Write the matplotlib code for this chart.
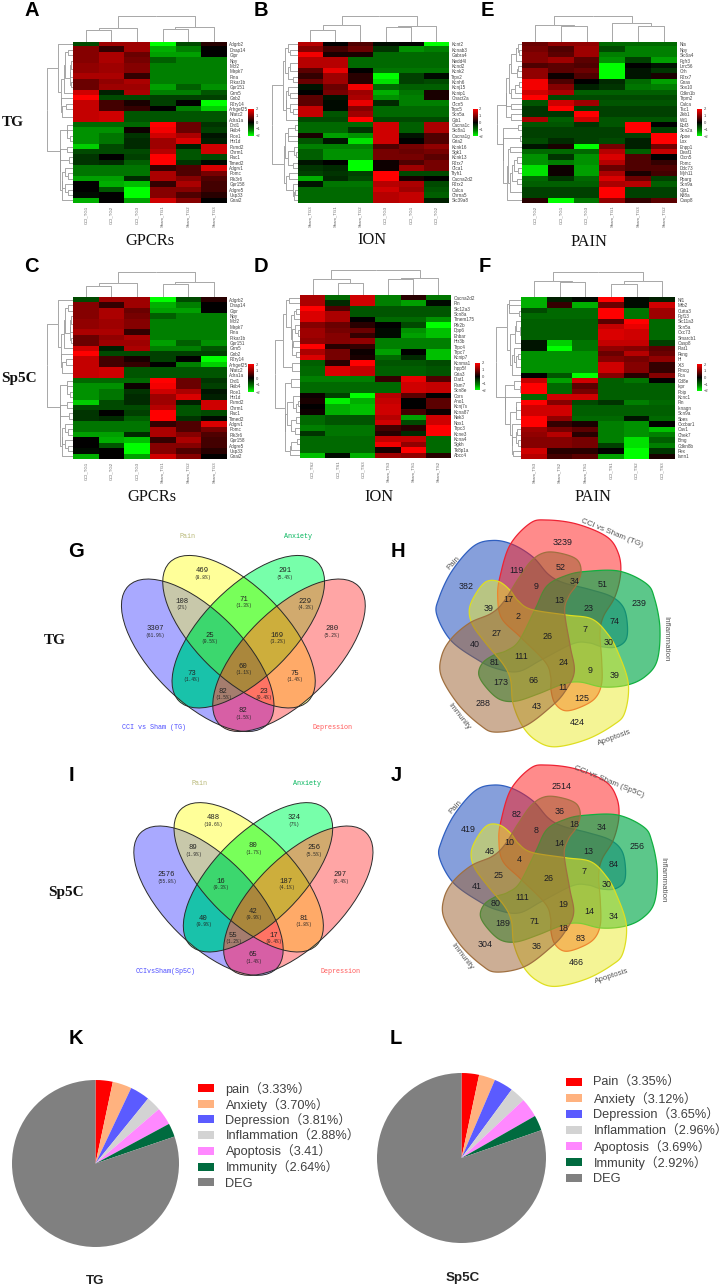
import numpy as np
import matplotlib
matplotlib.use("Agg")
import matplotlib.pyplot as plt
from matplotlib.colors import LinearSegmentedColormap, Normalize
from matplotlib.cm import ScalarMappable
from matplotlib.patches import Ellipse, Polygon

W, H = 726, 1288
plt.rcParams["font.family"] = ["Liberation Sans", "DejaVu Sans"]

# ---------------- heatmap data ----------------
HEAT_A = [
 [-.7,1.2,1.2,-2,-.7,.3],[1.0,.4,1.2,-1.5,-1.2,0],[1.0,1.3,.8,-1.4,-1.4,0],[1.0,1.3,.9,-.9,-1.2,-1.2],
 [1.1,1.2,1.0,-1.2,-1.2,-1.2],[1.1,1.2,1.0,-1.2,-1.2,-1.2],[1.3,1.3,.4,-1.2,-1.2,-1.2],[.8,1.1,1.3,-1.2,-1.2,-1.2],
 [.8,1.2,1.2,-1.4,-.9,-1.3],[1.6,-.3,1.3,-1.2,-1.2,-.8],[2,-.7,-.7,-.6,-.6,-.6],[1.5,.5,.2,-.6,0,-2],
 [1.5,.5,.4,0,-1.2,-1.7],[1.5,1.6,-.8,-.8,-.8,-.8],[1.5,1.6,-.8,-.8,-.8,-.8],[-1,-1,-1,2,.8,-.5],
 [-1.3,-1.3,.1,1.9,.8,-.6],[-1.3,-1.1,-.5,1.6,1.3,-.2],[-1.3,-1.1,-.4,1.2,1.7,-.3],[-1.7,-.7,-.4,1.2,-.3,1.6],
 [-.7,-.7,-.7,1.4,-.8,1.6],[-.5,0,-.6,2,-.8,-.7],[-.5,-.4,-.9,2,-.5,-.1],[-1.1,-1.1,-1.1,.4,.6,1.7],
 [-1.1,-1.1,-1.1,1.3,.6,.9],[-1.4,-1.4,-.4,1.3,1,.6],[0,-1.5,-1.6,.4,1.3,.5],[0,-.8,-2,1,1,.5],
 [-.1,0,-2,1,.6,.3],[-1.5,0,-1.4,1.6,1.0,0]]
HEAT_C = [list(r) for r in HEAT_A]
HEAT_B = [
 [1.4,0,.6,-.1,0,-2],[1.0,.5,.8,-.5,-1.3,-1.2],[1.9,.2,.2,-1,-1,-1],[1.4,1.4,-1,-1,-1,-1],
 [1.4,1.4,-1,-1,-1,-1],[.7,1.8,0,-1.1,-1.1,-1.1],[.4,1.2,.3,-2,-.6,-.1],[.8,1.2,.3,-1.8,-.6,-.7],
 [-.2,.8,1.9,-1,-.9,-.9],[0,.9,1.2,-1.5,-1.1,.2],[.7,-.2,1.3,-1.3,-1.2,.2],[.7,-.1,1.8,-.4,-1.2,-1.2],
 [1.5,-.1,1,-1,-1,-1],[1.5,-.8,1.2,-1,-1,-1],[-.7,-.7,2,-.7,-.7,-.7],[-1,-1,-1,1.6,-.9,1.3],
 [-1,-1,-.5,1.6,-.9,1.3],[.2,-1.4,-1.3,1.6,-.2,.6],[-.8,-.2,-1.8,1.6,0,.6],[-1.2,-1.2,-1.2,.6,.9,1.1],
 [-.9,-1.3,-1.3,.9,.8,.9],[-.9,-1.3,-1.3,.9,.9,.7],[-.2,0,-2,.1,.6,.9],[-.5,-.4,-2,.1,1.2,.9],
 [-.6,-.5,-.6,2,-.7,-.7],[-1.5,-.4,-.7,2,.2,0],[-.2,-1.1,-1.1,1.4,1.3,-.7],[-1,-1,-1,1.6,1.2,-.8],
 [-1,-1,-1,1.4,1.5,-.9],[-1,-1,-1,1.4,1.5,-.3]]
HEAT_E = [
 [.8,1.1,1.1,-1,-1,-1],[.9,.6,1.2,-.7,-1.2,-1.2],[1,.7,1.2,-1.2,-1.2,-1.2],[1,1.2,.7,-1.3,-.6,-1.4],
 [.6,.7,.6,-2,0,-.2],[1.1,.7,.8,-2,-.2,-.5],[1.1,.1,.6,-2,-.2,.2],[1.9,.6,0,-.4,-1,-1.4],
 [1.9,1,-.3,-.5,-1.1,-1.2],[1.6,1.3,-.9,-.9,-.9,-.9],[2,-.7,-.7,-.7,-.7,-.7],[-.8,1.6,1.2,-.8,-.8,-.8],
 [-.5,2,-.6,-.6,-.6,-.6],[-.5,-.5,2,-.6,-.6,-.6],[1.3,-.9,1.6,-.8,-.8,-.8],[-.8,-.8,-.5,-.8,2,0],
 [-.6,-.6,-.6,-.6,2,-.6],[-.6,-.6,-.6,-.6,-.6,2],[-.7,-.4,-.6,-.7,-.3,2],[-.2,.2,-2,.9,-.3,.9],
 [-1,-1,-1,1.4,-.9,1.5],[-1.3,-.5,-1.3,1.7,.6,0],[-1.3,-1.2,-1.3,1.4,.6,.4],[-1.8,.1,-1.4,.8,.6,.6],
 [-1.8,.1,-1.4,1.3,.2,.5],[-1,-.5,-1,1.7,.8,-.6],[-.9,-.9,-.9,1.3,1.4,-.9],[-.6,-.6,-.6,2,-.6,-.6],
 [-.6,-.6,-.6,2,-.6,-.6],[.3,-2,-1.1,1.1,.4,.7]]
HEAT_D = [
 [1.3,-1,1.6,-1.2,.3,-1.1],[1.3,-.4,1.6,-1.2,-1.4,-.1],[2,.6,-.8,-.8,-.8,-.8],[1.7,1.3,-.8,-.8,-.8,-.8],
 [1.7,1.3,0,-1,-1,-1.3],[1,.8,.3,0,-.7,-2],[1.2,.9,.8,-.1,-1.3,-1.6],[1.2,1,.4,-.1,-1.4,-1.6],
 [1.1,1,1.1,-1.2,-1.2,-1.2],[2,.3,.4,-1.2,-1.2,-1.2],[1.3,.9,.1,-1.4,0,-1.6],[1.7,.9,.2,-1,-.4,-1.6],
 [-.9,.3,2,-.8,-.8,-.7],[-1,1.7,1.5,-.9,-.9,-.8],[-1,1.7,1.5,-.9,-.9,-.8],[-1.2,-1.2,-1.2,.4,1.8,.6],
 [-1,-1,-1,-1,1.6,1.5],[-1,-1,-1,-1,1.6,1.5],[.1,-.6,-2,1.4,.7,0],[.2,-1.9,-1.5,1.5,0,.7],
 [0,-1.5,-1.6,1.6,0,.7],[.1,-1.5,-1.6,1.6,.5,.1],[-1,-.8,-.8,1.4,-1.4,1.6],[-1,-.8,-.8,1.6,-.7,1.6],
 [-1.2,-1.1,-1.1,.5,.3,2],[-.5,-1.1,-1.1,.3,-.4,2],[-1,-1,-1,1.5,1.5,-1],[-1,-1,-1,1.9,1.1,-1],
 [-1,-1,-1,.2,2,-1],[-1.6,-.1,-1.5,1.2,1.1,.3]]
HEAT_F = [
 [-1.5,-.3,-.1,2,-.1,-.3],[-1.5,.4,-1.5,.8,-.1,1.6],[-.7,-1,-1,2,-1.1,1.2],[-1,-1,-1,2,-1.1,1.2],
 [-.9,-.9,-.9,.7,2,-1],[-.9,-.9,-.9,1.5,1.8,-1],[-.9,-.9,-.9,1.7,1.6,-1],[-.9,-.9,-.9,1.7,1.6,-1],
 [-.2,-1.7,-1.1,1.5,1.5,-.6],[-.2,-2,-1.1,1.1,1,.7],[-1.3,-1.3,-1.3,.8,1.4,.8],[-1.3,-1.3,-1.3,1,.9,1.1],
 [-1.3,-1.3,-1.3,1.6,1,.4],[-1.3,-1.3,-1.3,1.6,1,.4],[0,-.8,-2,1,.3,1],[1.5,-1.4,1.6,-.9,-1.1,0],
 [2,-1,.7,-.9,-.9,-.9],[2,-1,.9,-.9,-.9,-.9],[-1,1.6,1.6,-.9,-.9,-.9],[2,1,-.7,-.5,-1.2,-1],
 [1.6,1.6,-.9,-.9,-.9,-.9],[1.6,1.6,-.9,-.9,-.9,-.9],[2,1.1,-1,-1,-.2,-1],[2,.4,.2,-1.2,-1.3,0],
 [1.2,.9,.7,-1.2,-1.3,-1.6],[1.1,1.4,.3,-1.2,-1.3,-1.2],[1,1,.9,-1.2,-1.8,-.9],[1,1,.9,-.6,-1.8,-1.2],
 [1.6,.3,.3,0,-2,-.5],[1.4,.5,.7,-1.4,-2,.2]]

GENES_GPCR = ["Adgrb2","Dnap14","Gipr","Npy","Mcf2","Mapk7","Flna","Prkar1b","Gpr151","Grm5","Gnb2","P2ry14",
              "Arhgef25","Nfatc2","Adra1a","Drd1","Pkib4","Plce1","Htr1d","Psmd2","Chrm1","Rac1","Timed2",
              "Adgrv1","Pomc","Pik3r6","Gpr158","Adgre5","Usp33","Gnai2"]
GENES_ION_B = ["Kcnt2","Kcnab3","Gabra4","Nedd4l","Kcnd2","Kcnk2","Trpv2","Kcnh6","Kcnj15","Kcnip1","Cnact2a","Clcn5",
               "Trpc5","Scn5a","Gjb1","Cacna1c","Slc8a1","Cacna1g","Gria2","Kcnk16","Sgk1","Kcnk13","P2rx7","Clca1",
               "Ttyh1","Cacna2d2","P2rx2","Calca","Chrna5","Slc39a8"]
GENES_PAIN_E = ["Nts","Npy","Slc6a4","Fgfr3","Lrrc56","Crh","P2rx7","Gnas","Sox10","Cdkn1b","Trpm2","Calca","Tsc1",
                "Zeb1","Wt1","Ebf3","Scn2a","Apoe","Lox","Enpp1","Deaf1","Ctcn5","Pomc","Ddc73","Myh11","Pparg",
                "Scn9a","Gjb1","Kif8a","Casp8"]
GENES_ION_D = ["Cacna2d2","Pln","Slc12a3","Scn8a","Tmem175","Pfk2b","Dpp6","Ehbar","Htr3b","Trpc4","Trpc7","Kcnip7",
               "Kcnma1","Inpp5f","Gria3","Dlat1","Pam7","Scn8e","Cors","Ano1","Kcnj7s","Kcna87","Nek3","Nox1","Trpc3",
               "Kcne3","Kcna4","Sgkh","Tk8p1a","Abcc4"]
GENES_PAIN_F = ["Nf1","Mfb2","Cutta3","Fgf13","Slc11a3","Scn5a","Cxc73","Smarcb1","Casp8","Plat1","Pkng","Hi","Xi3",
                "Pmcg","Fca","Cd8e","Ikpr","Poip","Kcnc1","Fln","Iknagn","Scn9a","Sbes","Cxcbar1","Cav1","Chek7",
                "Bmg","Cdkn8b","Pex","Iann1"]
SAMPLES_A = ["CCI_TG1","CCI_TG2","CCI_TG3","Sham_TG1","Sham_TG2","Sham_TG3"]
SAMPLES_B = ["Sham_TG3","Sham_TG1","Sham_TG2","CCI_TG3","CCI_TG1","CCI_TG2"]
SAMPLES_E = ["CCI_TG2","CCI_TG1","CCI_TG3","Sham_TG1","Sham_TG3","Sham_TG2"]
SAMPLES_D = ["CCI_TS2","CCI_TS1","CCI_TS3","Sham_TS3","Sham_TS1","Sham_TS2"]
SAMPLES_F = ["Sham_TS3","Sham_TS2","Sham_TS1","CCI_TS1","CCI_TS2","CCI_TS3"]

# ---------------- Venn / pie data ----------------
V4_G_COUNTS = [3307,469,291,280,108,71,229,25,169,73,60,75,82,23,82]
V4_G_PCTS = ["(61.9%)","(8.8%)","(5.4%)","(5.2%)","(2%)","(1.3%)","(4.3%)","(0.5%)","(3.2%)","(1.4%)","(1.1%)","(1.4%)","(1.5%)","(0.4%)","(1.5%)"]
V4_I_COUNTS = [2576,488,324,297,89,80,256,16,187,40,42,81,55,17,65]
V4_I_PCTS = ["(55.8%)","(10.6%)","(7%)","(6.4%)","(1.9%)","(1.7%)","(5.5%)","(0.3%)","(4.1%)","(0.9%)","(0.9%)","(1.8%)","(1.2%)","(0.4%)","(1.4%)"]
V5_H_COUNTS = [382,3239,239,424,288,119,52,51,34,9,17,39,13,23,74,2,27,26,7,30,40,111,24,9,39,81,173,66,11,125,43]
V5_J_COUNTS = [419,2514,256,466,304,82,36,34,18,8,10,46,14,13,84,4,25,26,7,30,41,111,19,14,34,80,189,71,18,83,36]

PIE_NAMES_K = ["pain","Anxiety","Depression","Inflammation","Apoptosis","Immunity","DEG"]
PIE_NAMES_L = ["Pain","Anxiety","Depression","Inflammation","Apoptosis","Immunity","DEG"]
PIE_K = [3.33,3.70,3.81,2.88,3.41,2.64,80.23]
PIE_L = [3.35,3.12,3.65,2.96,3.69,2.92,80.31]
PIE_K_TEXT = ["3.33%","3.70%","3.81%","2.88%","3.41","2.64%",None]
PIE_L_TEXT = ["3.35%","3.12%","3.65%","2.96%","3.69%","2.92%",None]

# ---------------- layout ----------------
V4_G_XY = [(285,296),(428,122),(674,122),(816,296),(366,214),(550,208),(735,214),(450,316),(651,316),(396,429),(550,408),(704,429),(489,483),(612,483),(550,542)]
V4_I_XY = [(320,314),(460,143),(701,143),(841,314),(399,233),(580,227),(761,233),(482,333),(679,333),(430,444),(580,424),(731,444),(520,496),(641,496),(580,554)]
V5_H_XY = [(198,200),(487,67),(716,250),(532,608),(250,551),(349,152),(481,143),(607,194),(523,183),(408,200),(324,239),(265,265),(479,240),(566,265),(645,305),(353,290),(290,340),(444,350),(554,328),(625,368),(223,373),(365,408),(491,428),(569,451),(645,466),(284,426),(303,487),(401,481),(488,502),(545,534),(410,560)]
V5_J_XY = [(205,179),(486,50),(710,229),(530,577),(256,522),(351,132),(480,124),(604,173),(523,162),(409,180),(328,216),(270,243),(478,219),(564,244),(640,283),(357,268),(295,317),(445,325),(552,305),(621,344),(229,349),(367,383),(491,402),(568,425),(640,439),(288,400),(307,460),(402,454),(489,474),(541,505),(411,530)]

V4_COLORS = {0:(255,255,255),1:(169,169,255),2:(255,255,153),4:(119,255,170),8:(255,166,166),
             3:(200,200,170),6:(120,255,90),12:(210,170,110),5:(25,195,170),7:(60,215,110),14:(205,175,60),
             10:(255,170,105),15:(170,135,60),13:(165,125,110),11:(255,115,100),9:(215,95,165)}
RED_OUTLINE = [(300,170),(330,75),(390,10),(440,0),(530,12),(620,50),(655,100),(662,160),(645,230),(610,290),
               (600,340),(605,420),(605,490),(585,535),(540,562),(495,572),(465,550),(453,510),(452,470),(435,425),
               (360,350),(305,295),(293,230)]
V5_CENTER = (440,340)

fig = plt.figure(figsize=(W/100, H/100), dpi=100, facecolor="white")

def ax_px(x0, y0, x1, y1, **kw):
    return fig.add_axes([x0/W, 1-y1/H, (x1-x0)/W, (y1-y0)/H], **kw)

canvas = ax_px(0, 0, W, H)
canvas.set_xlim(0, W); canvas.set_ylim(H, 0); canvas.axis("off"); canvas.set_zorder(20)
canvas.patch.set_alpha(0)

CMAP = LinearSegmentedColormap.from_list("gbr", [(0,(0,1,0)),(.2,(0,.5,0)),(.5,(0,0,0)),(.8,(.62,0,0)),(1,(1,0,0))])

def adjacent_tree(M):
    """Agglomerate neighbouring rows only, so leaf order stays as displayed."""
    M = np.asarray(M, float)
    cl = [{"idx":[i], "pos":float(i), "h":0.0, "kids":None} for i in range(len(M))]
    while len(cl) > 1:
        best, bd = 0, 1e9
        for k in range(len(cl)-1):
            a, b = M[cl[k]["idx"]], M[cl[k+1]["idx"]]
            d = np.sqrt(((a[:,None,:]-b[None,:,:])**2).sum(-1)).mean()
            if d < bd:
                best, bd = k, d
        a, b = cl[best], cl[best+1]
        h = max(bd, a["h"], b["h"])
        cl[best:best+2] = [{"idx":a["idx"]+b["idx"], "pos":(a["pos"]+b["pos"])/2, "h":h, "kids":(a,b)}]
    return cl[0]

def draw_tree(ax, node, horizontal):
    if node["kids"] is None:
        return
    for k in node["kids"]:
        xs = [k["h"], node["h"], node["h"]]
        ys = [k["pos"], k["pos"], node["pos"]]
        if horizontal:
            ax.plot(xs, ys, color="#999999", lw=.6, solid_capstyle="butt")
        else:
            ax.plot(ys, xs, color="#999999", lw=.6, solid_capstyle="butt")
        draw_tree(ax, k, horizontal)

def heatmap(box, data, genes, samples, cbar):
    x0, y0, x1, y1 = box
    ax = ax_px(x0, y0, x1, y1)
    arr = np.array(data, float)
    ax.imshow(arr, cmap=CMAP, vmin=-2, vmax=2, aspect="auto", interpolation="nearest")
    ax.yaxis.tick_right()
    ax.set_yticks(range(arr.shape[0])); ax.set_yticklabels(genes, fontsize=3.3, color="#444444")
    ax.set_xticks(range(arr.shape[1])); ax.set_xticklabels(samples, fontsize=3.1, color="#666666", rotation=90)
    ax.tick_params(length=0, pad=2)
    for s in ax.spines.values():
        s.set_visible(False)
    rt = adjacent_tree(arr)
    d = ax_px(x0-25.5, y0, x0, y1)
    draw_tree(d, rt, True)
    d.set_xlim(rt["h"]*1.0, 0); d.set_ylim(arr.shape[0]-.5, -.5); d.axis("off")
    ct = adjacent_tree(arr.T)
    t = ax_px(x0, y0-25.5, x1, y0)
    draw_tree(t, ct, False)
    t.set_ylim(0, ct["h"]*1.0); t.set_xlim(-.5, arr.shape[1]-.5); t.axis("off")
    c = ax_px(*cbar)
    cb = fig.colorbar(ScalarMappable(Normalize(-2, 2), CMAP), cax=c, ticks=[-2,-1,0,1,2])
    cb.outline.set_visible(False)
    cb.ax.tick_params(length=0, pad=1, labelsize=3, labelcolor="#444444")

heatmap((73,41.7,226.5,203), HEAT_A, GENES_GPCR, SAMPLES_A, (248,109,254,135.5))
heatmap((297.5,41.7,448.5,203), HEAT_B, GENES_ION_B, SAMPLES_B, (472.7,109,477.5,136))
heatmap((522,41.7,677,203), HEAT_E, GENES_PAIN_E, SAMPLES_E, (697,109,702,136))
heatmap((73,297,226.5,459), HEAT_C, GENES_GPCR, SAMPLES_A, (248,364,254,392))
heatmap((300,295,451,458), HEAT_D, GENES_ION_D, SAMPLES_D, (475,363,480,390))
heatmap((521,297,675,459), HEAT_F, GENES_PAIN_F, SAMPLES_F, (697,364,702,391))

def venn4(origin, centers, a, b, counts, pcts, xy, setlabels):
    ox, oy = origin
    x0, y0, x1, y1 = ox, oy, ox+330, oy+240
    ax = ax_px(x0, y0, x1, y1)
    gx, gy = np.meshgrid(np.linspace(x0, x1, 1320), np.linspace(y0, y1, 960))
    code = np.zeros(gx.shape, int)
    c45 = np.sqrt(.5)
    angles = [(1, c45), (2, c45), (4, -c45), (8, -c45)]
    for (bit, s), (cx, cy) in zip(angles, centers):
        u = ((gx-cx)*c45 + (gy-cy)*s)/a
        v = (-(gx-cx)*s + (gy-cy)*c45)/b
        code += bit*((u*u+v*v) <= 1)
    lut = np.zeros((16,3))
    for k, col in V4_COLORS.items():
        lut[k] = np.array(col)/255
    ax.imshow(lut[code], extent=(x0,x1,y1,y0), aspect="auto", interpolation="bilinear")
    for (bit, s), (cx, cy) in zip(angles, centers):
        ax.add_patch(Ellipse((cx,cy), 2*a, 2*b, angle=45 if s > 0 else -45, fill=False, ec="#2a2a2a", lw=.7))
    ax.set_xlim(x0,x1); ax.set_ylim(y1,y0); ax.axis("off")
    for n, p, (zx, zy) in zip(counts, pcts, xy):
        canvas.text(ox+zx/3, oy+zy/3, str(n), fontsize=5.2, family="Liberation Mono", color="#222222", ha="center", va="center")
        canvas.text(ox+zx/3, oy+(zy+19)/3, p, fontsize=3.3, family="Liberation Mono", color="#222222", ha="center", va="center")
    for t, (zx, zy), col in setlabels:
        canvas.text(ox+zx/3, oy+zy/3, t, fontsize=4.9, family="Liberation Mono", color=col, ha="center", va="center")

venn4((60,530), [(197.7,655.3),(239,631.7),(248.3,631.7),(289,655.3)], 98, 45, V4_G_COUNTS, V4_G_PCTS, V4_G_XY,
      [("Pain",(381,18),"#b9b978"),("Anxiety",(714,18),"#00b45a"),("CCI vs Sham (TG)",(283,592),"#5050ff"),("Depression",(817,592),"#ff5a5a")])
venn4((60,770), [(208.5,900.7),(248.7,877.3),(258,877.3),(298.3,900.7)], 96, 44, V4_I_COUNTS, V4_I_PCTS, V4_I_XY,
      [("Pain",(419,41),"#b9b978"),("Anxiety",(741,41),"#00b45a"),("CCIvsSham(Sp5C)",(317,604),"#5050ff"),("Depression",(841,604),"#ff5a5a")])

def catmull(pts, n=14):
    P = np.array(pts, float)
    out = []
    m = len(P)
    for i in range(m):
        p0, p1, p2, p3 = P[i-1], P[i], P[(i+1)%m], P[(i+2)%m]
        for t in np.linspace(0, 1, n, endpoint=False):
            out.append(.5*((2*p1)+(p2-p0)*t+(2*p0-5*p1+4*p2-p3)*t*t+(3*p1-p0-3*p2+p3)*t**3))
    return np.array(out)

# painting order: Pain, CCI, Inflammation, Apoptosis, Immunity
V5_STYLES = [("#0f41b9",.5,"#2f5fc0",72),("#ff1919",.5,"#ee2233",0),("#05aa4b",.65,"#10b040",-72),
             ("#ebeb2d",.5,"#dede20",-144),("#9b5f2d",.5,"#a07040",144)]

def venn5(origin, cz, scale, counts, xy, labels):
    ox, oy = origin
    base = catmull(RED_OUTLINE) - np.array(V5_CENTER)
    ax = ax_px(ox-10, oy-10, ox+320, oy+250)
    for col, al, ec, deg in V5_STYLES:
        th = np.radians(deg)
        R = np.array([[np.cos(th), np.sin(th)], [-np.sin(th), np.cos(th)]])
        p = (base @ R.T)*scale + np.array(cz)
        p = p/3 + np.array([ox, oy])
        ax.add_patch(Polygon(p, closed=True, fc=col, alpha=al, ec="none"))
        ax.add_patch(Polygon(p, closed=True, fill=False, ec=ec, lw=.9))
    ax.set_xlim(ox-10, ox+320); ax.set_ylim(oy+250, oy-10); ax.axis("off")
    for n, (zx, zy) in zip(counts, xy):
        canvas.text(ox+zx/3, oy+zy/3, str(n), fontsize=6.4, color="#1c1c24", ha="center", va="center")
    for t, (zx, zy), rot in labels:
        canvas.text(ox+zx/3, oy+zy/3, t, fontsize=5.8, color="#555555", ha="center", va="center", rotation=rot, rotation_mode="anchor")

venn5((400,520), V5_CENTER, 1.0, V5_H_COUNTS, V5_H_XY,
      [("Pain",(160,128),48),("CCI vs Sham (TG)",(635,40),-22),("Inflammation",(797,355),-90),("Apoptosis",(642,652),20),("Immunity",(178,590),-52)])
venn5((400,770), (440,317), .976, V5_J_COUNTS, V5_J_XY,
      [("Pain",(168,110),48),("CCI vs Sham (Sp5C)",(628,35),-22),("Inflammation",(787,330),-90),("Apoptosis",(636,620),18),("Immunity",(186,558),-52)])

PIE_COLORS = ["#ff0000","#ffb27f","#5b5bff","#d3d3d3","#ff88ff","#006b3f","#808080"]

def pie(box, vals, names, texts, ylist, patch_x, text_x):
    ax = ax_px(*box)
    ax.pie(vals, colors=PIE_COLORS, startangle=90, counterclock=False, radius=1)
    ax.set_xlim(-1,1); ax.set_ylim(-1,1); ax.set_aspect("auto")
    for n, t, y, col in zip(names, texts, ylist, PIE_COLORS):
        canvas.add_patch(plt.Rectangle((patch_x, y-4), 16.7, 8, fc=col, ec="none"))
        s = n if t is None else f"{n}（{t}）"
        canvas.text(text_x, y+4.5, s, fontsize=9.2, color="#404040", va="baseline", ha="left",
                    family=["Liberation Sans","Noto Sans CJK SC"])

pie((12,1080,179,1247), PIE_K, PIE_NAMES_K, PIE_K_TEXT, [1088.3,1104,1119.3,1135.3,1151,1166.7,1182.3], 197.7, 225.5)
pie((377,1073,546,1243), PIE_L, PIE_NAMES_L, PIE_L_TEXT, [1081.7,1098,1113.7,1130,1146,1162,1177.7], 565.7, 593.5)

for t, x, y in [("A",31.5,10),("B",260.5,10),("E",487,10),("C",31.5,266),("D",261,266),("F",485,266),
                ("G",76,551.5),("H",398,551),("I",71.5,775),("J",396,775),("K",76,1039),("L",396,1039)]:
    canvas.text(x, y, t, fontsize=14.5, fontweight="bold", color="black", ha="center", va="center")
for t, x, y in [("GPCRs",149.5,240.7),("ION",372,240),("PAIN",589,241.7),("GPCRs",152,497),("ION",379,497),("PAIN",592.7,497)]:
    canvas.text(x, y, t, fontsize=11.8, family="Liberation Serif", color="#111111", ha="center", va="center")
for t, x, y in [("TG",13,122),("Sp5C",19,378),("TG",55,640),("Sp5C",66,892)]:
    canvas.text(x, y, t, fontsize=11, family="Liberation Serif", fontweight="bold", color="#111111", ha="center", va="center")
for t, x, y in [("TG",95,1281),("Sp5C",463,1278)]:
    canvas.text(x, y, t, fontsize=9.6, fontweight="bold", color="#222222", ha="center", va="center")

fig.savefig("out.png", dpi=100, facecolor="white")
